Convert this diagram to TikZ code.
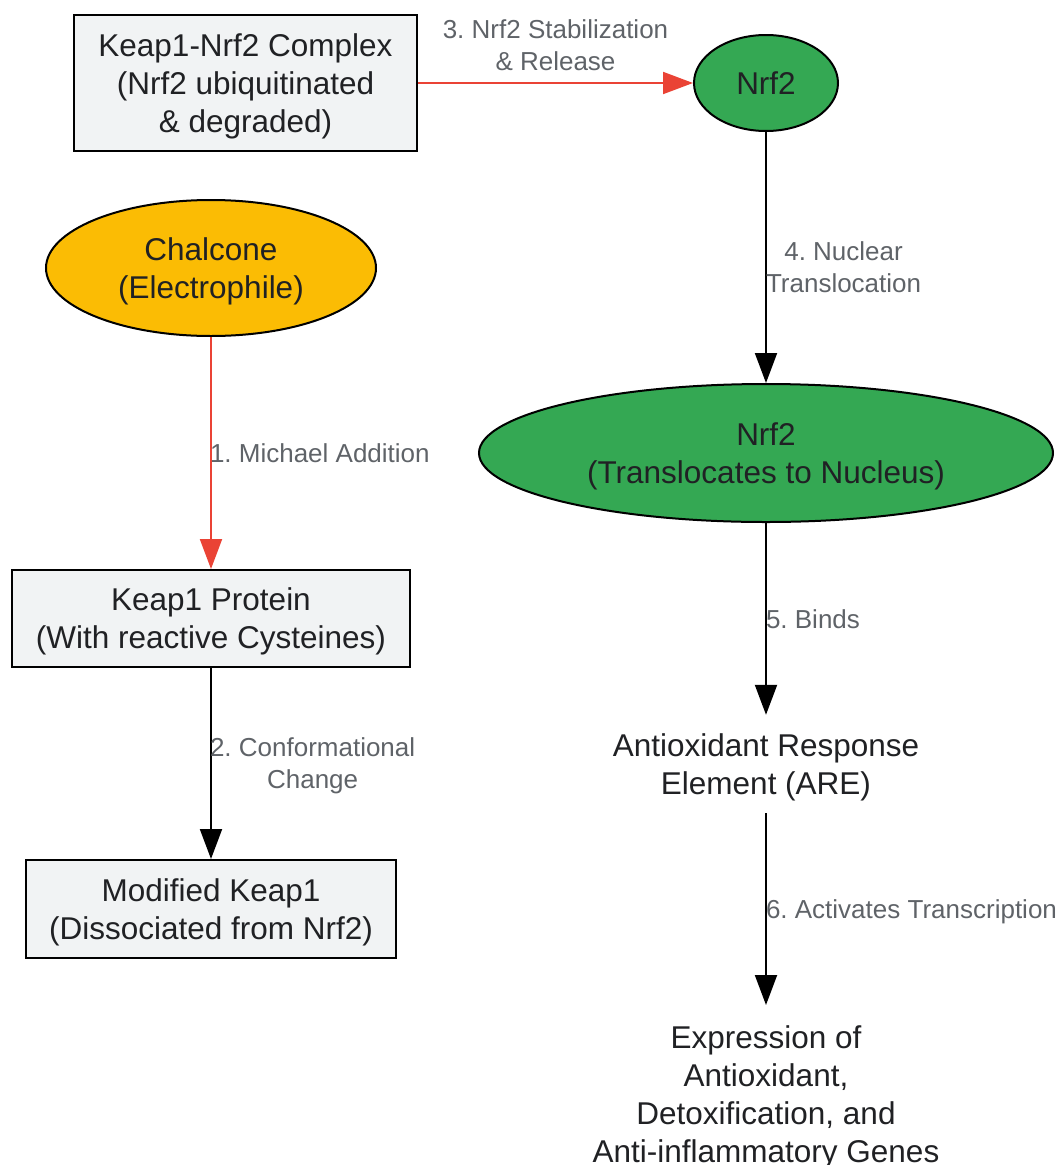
\documentclass[tikz,border=0pt]{standalone}
\usepackage{fontspec}
\setmainfont{Liberation Sans}
\frenchspacing
\usetikzlibrary{positioning,shapes.geometric,arrows.meta}
\definecolor{textDark}{HTML}{202124}
\definecolor{labelGray}{HTML}{5F6368}
\definecolor{boxFill}{HTML}{F1F3F4}
\definecolor{nrfGreen}{HTML}{34A853}
\definecolor{chalYellow}{HTML}{FBBC04}
\definecolor{stepRed}{HTML}{EA4335}
\tikzstyle{proteinBox}=[draw,line width=2pt,fill=boxFill,rectangle,inner sep=0pt,align=center,text depth=0pt,text=textDark,font=\fontsize{31.5}{38}\selectfont]
\tikzstyle{moleculeNode}=[draw,line width=2pt,ellipse,inner sep=0pt,align=center,text depth=0pt,text=textDark,font=\fontsize{31.5}{38}\selectfont]
\tikzstyle{plainNode}=[align=center,text depth=0pt,text=textDark,font=\fontsize{31.5}{38}\selectfont]
\tikzstyle{stepArrow}=[-{Triangle[length=30pt,width=22pt]}, line width=2pt]
\tikzstyle{stepLabel}=[text=labelGray,align=center,inner sep=0pt,text depth=0pt,font=\fontsize{26}{32}\selectfont]

\begin{document}
\begin{tikzpicture}[x=1pt,y=-1pt]
	\useasboundingbox (0,0) rectangle (1062,1165);

	\node[proteinBox,minimum width=343pt,minimum height=136pt] (complex) at (245.5,83) {Keap1-Nrf2 Complex\\(Nrf2 ubiquitinated\\\& degraded)};
	\node[moleculeNode,fill=nrfGreen,minimum width=144pt,minimum height=96pt] (nrf) at (766,83) {Nrf2};
	\node[moleculeNode,fill=chalYellow,minimum width=330pt,minimum height=136pt] (chalcone) at (211,268) {Chalcone\\(Electrophile)};
	\node[proteinBox,minimum width=398pt,minimum height=97pt] (keap) at (211,618.5) {Keap1 Protein\\(With reactive Cysteines)};
	\node[proteinBox,minimum width=370pt,minimum height=98pt] (modkeap) at (211,909) {Modified Keap1\\(Dissociated from Nrf2)};
	\node[moleculeNode,fill=nrfGreen,minimum width=574pt,minimum height=138pt] (nrfnuc) at (766,453) {Nrf2\\(Translocates to Nucleus)};
	\node[plainNode,minimum height=98pt,inner sep=0pt] (are) at (766,764) {Antioxidant Response\\Element (ARE)};
	\node[plainNode,anchor=north,inner sep=0pt] (genes) at (766,1025) {Expression of\\Antioxidant,\\Detoxification, and\\Anti-inflammatory Genes};
	\coordinate (genesTop) at (766,1005);

	\draw[stepArrow,stepRed] (chalcone) -- node[stepLabel,anchor=west,pos=0.5,xshift=-2pt] {1. Michael Addition} (keap);
	\draw[stepArrow] (keap) -- node[stepLabel,anchor=west,pos=0.5,xshift=-2pt] {2. Conformational\\Change} (modkeap);
	\draw[stepArrow,stepRed] (complex) -- node[stepLabel,anchor=south,pos=0.5,yshift=12pt] {3. Nrf2 Stabilization\\\& Release} (nrf);
	\draw[stepArrow] (nrf) -- node[stepLabel,anchor=west,pos=0.54,xshift=-1pt] {4. Nuclear\\Translocation} (nrfnuc);
	\draw[stepArrow] (nrfnuc) -- node[stepLabel,anchor=west,pos=0.5,xshift=-1pt] {5. Binds} (are);
	\draw[stepArrow] (are) -- node[stepLabel,anchor=west,pos=0.5,xshift=-1pt] {6. Activates Transcription} (genesTop);
\end{tikzpicture}
\end{document}
